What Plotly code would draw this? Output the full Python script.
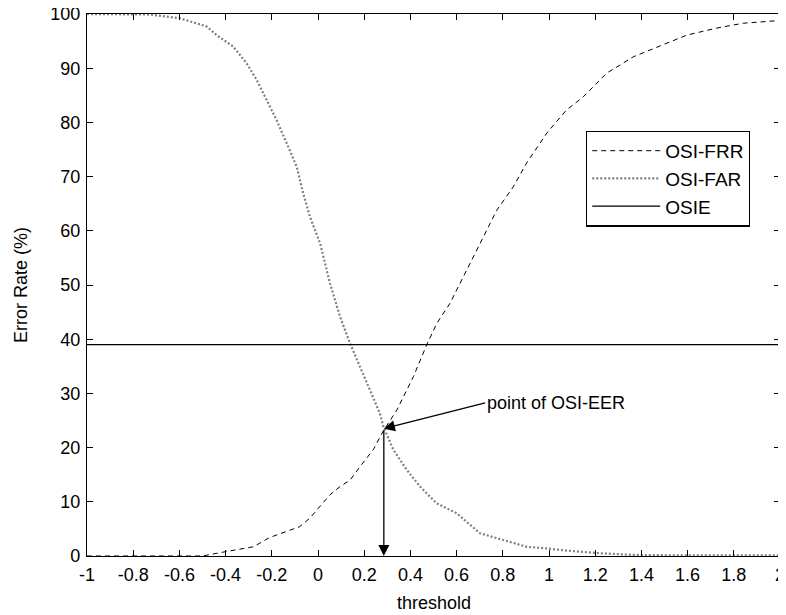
import plotly.graph_objects as go

# FRR (dashed) curve
frr_x = [-1.0, -0.5, -0.40, -0.28, -0.21, -0.12, -0.08, -0.035, -0.006, 0.052, 0.095, 0.139, 0.182,
         0.239, 0.283, 0.341, 0.384, 0.413, 0.471, 0.514, 0.571, 0.629, 0.701, 0.774, 0.845,
         0.903, 0.990, 1.076, 1.148, 1.250, 1.365, 1.509, 1.596, 1.726, 1.841, 2.0]
frr_y = [0.0, 0.0, 0.8, 1.7, 3.4, 4.8, 5.4, 7.0, 8.5, 11.3, 12.8, 14.0, 16.5,
         19.6, 23.1, 26.9, 30.6, 33.1, 39.0, 42.9, 46.6, 51.5, 57.7, 63.8, 68.1,
         72.5, 78.0, 82.3, 84.7, 89.1, 92.1, 94.6, 96.1, 97.4, 98.3, 98.8]

# FAR (dotted) curve
far_x = [-1.0, -0.727, -0.597, -0.482, -0.439, -0.367, -0.309, -0.265, -0.222, -0.179, -0.135,
         -0.092, -0.064, -0.035, 0.009, 0.052, 0.095, 0.139, 0.182, 0.225, 0.268, 0.283,
         0.326, 0.384, 0.442, 0.514, 0.600, 0.701, 0.802, 0.903, 0.990, 1.076, 1.221,
         1.365, 1.6, 2.0]
far_y = [100.0, 99.9, 99.2, 97.7, 96.1, 94.0, 90.9, 87.8, 84.1, 80.4, 76.1,
         71.8, 66.9, 62.6, 57.7, 50.3, 44.2, 39.2, 34.9, 30.6, 26.3, 23.9,
         19.6, 15.9, 12.8, 9.7, 7.9, 4.2, 3.0, 1.7, 1.4, 1.0, 0.5,
         0.2, 0.1, 0.1]

# OSIE constant
osie_x = [-1.0, 2.0]
osie_y = [39.0, 39.0]

# EER point and annotation
eer_x = 0.285
eer_y = 23.5
label_x = 0.73
label_y = 28.3
label_text = "point of OSI-EER"

x_ticks = [-1, -0.8, -0.6, -0.4, -0.2, 0, 0.2, 0.4, 0.6, 0.8, 1, 1.2, 1.4, 1.6, 1.8, 2]
x_ticktext = ["-1", "-0.8", "-0.6", "-0.4", "-0.2", "0", "0.2", "0.4", "0.6", "0.8",
              "1", "1.2", "1.4", "1.6", "1.8", "2"]
y_ticks = [0, 10, 20, 30, 40, 50, 60, 70, 80, 90, 100]

FONT = "Liberation Sans, Arial, sans-serif"
FS = 18

fig = go.Figure()
fig.add_trace(go.Scatter(x=frr_x, y=frr_y, mode="lines", name="OSI-FRR",
                         line=dict(color="black", width=1, dash="5px,4px")))
fig.add_trace(go.Scatter(x=far_x, y=far_y, mode="lines", name="OSI-FAR",
                         line=dict(color="#7f7f7f", width=2.2, dash="2px,2px")))
fig.add_trace(go.Scatter(x=osie_x, y=osie_y, mode="lines", name="OSIE",
                         line=dict(color="black", width=1.3)))

# arrow from label to EER point
fig.add_annotation(x=eer_x, y=eer_y, ax=label_x, ay=label_y, axref="x", ayref="y",
                   xref="x", yref="y", text="", showarrow=True,
                   arrowhead=2, arrowsize=1.7, arrowwidth=1.3, arrowcolor="black")
fig.add_annotation(x=label_x, y=label_y, xref="x", yref="y", text=label_text,
                   showarrow=False, xanchor="left", yanchor="middle", xshift=-2,
                   font=dict(family=FONT, size=FS, color="black"))
# vertical arrow down to threshold axis
fig.add_annotation(x=eer_x, y=0, ax=eer_x, ay=eer_y, axref="x", ayref="y",
                   xref="x", yref="y", text="", showarrow=True,
                   arrowhead=2, arrowsize=1.7, arrowwidth=1.3, arrowcolor="black")

# axis titles
fig.add_annotation(x=0.5, y=0, xref="paper", yref="paper", text="threshold",
                   showarrow=False, xanchor="center", yanchor="top", yshift=-35,
                   font=dict(family=FONT, size=FS, color="black"))
fig.add_annotation(x=0, y=0.5, xref="paper", yref="paper", text="Error Rate (%)",
                   showarrow=False, xanchor="center", yanchor="middle", xshift=-66,
                   textangle=-90, font=dict(family=FONT, size=FS, color="black"))

axis_common = dict(showline=True, linecolor="black", linewidth=1.3, mirror="ticks",
                   ticks="inside", ticklen=6, tickcolor="black", tickwidth=1.3,
                   showgrid=False, zeroline=False, automargin=False,
                   ticklabeloverflow="allow",
                   tickfont=dict(family=FONT, size=FS, color="black"))

fig.update_xaxes(range=[-1, 2], tickvals=x_ticks, ticktext=x_ticktext, ticklabelstandoff=2,
                 **axis_common)
fig.update_yaxes(range=[0, 100], tickvals=y_ticks, ticklabelstandoff=2,
                 **axis_common)

# the page body adds an 8px margin, so the figure is 8px smaller and shifted
fig.update_layout(
    width=778, height=607,
    margin=dict(l=79, r=6, t=6, b=59, autoexpand=False),
    plot_bgcolor="white", paper_bgcolor="white",
    font=dict(family=FONT, size=FS, color="black"),
    legend=dict(x=0.72, y=0.785, xanchor="left", yanchor="top",
                bgcolor="white", bordercolor="black", borderwidth=1.3,
                font=dict(family=FONT, size=19, color="black"),
                tracegroupgap=0, itemwidth=68),
    showlegend=True,
)

fig.write_html("out.html")
